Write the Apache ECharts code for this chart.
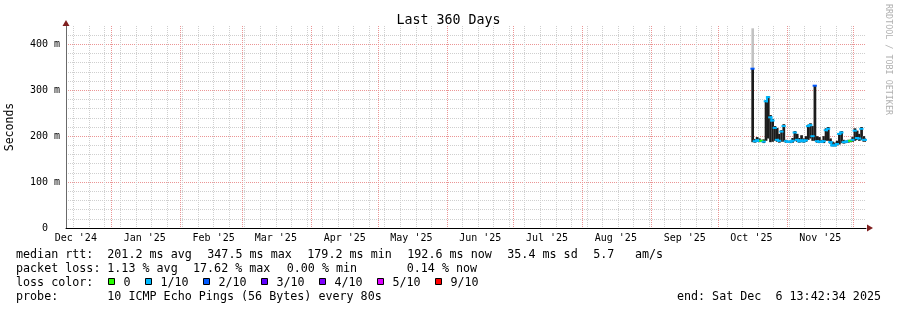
<!DOCTYPE html>
<html><head><meta charset="utf-8">
<script src="https://cdn.jsdelivr.net/npm/echarts@6/dist/echarts.min.js"></script>
<style>html,body{margin:0;padding:0;background:#fff}#c{width:897px;height:310px}</style>
</head><body><div id="c"></div>
<script>
const FONT = '"DejaVu Sans Mono", monospace';
const DAY = 86400000;

// ---- data (one sample per day, first sample 2025-10-16 12:00 UTC) ----
const firstSample = Date.UTC(2025, 9, 16, 12, 0, 0);
const smokeLow   = [187,186,188,187,188,185,190,195,187,188,190,188,186,188,188,186,186,185,186,190,188,186,187,186,188,192,195,190,190,186,185,186,185,190,190,184,178,178,180,182,185,184,185,186,187,188,190,192,190,192,188,188];
const smokeHigh  = [348,194,198,195,192,193,278,287,246,237,222,218,205,213,226,192,190,190,196,211,205,196,202,195,200,225,228,222,311,200,198,192,200,217,220,195,188,186,190,207,211,192,190,192,192,198,217,212,205,220,200,195];
const smokeOuter = [435,194,198,195,192,193,278,287,246,237,222,218,205,213,226,192,190,190,196,211,205,196,202,195,200,225,228,222,311,200,198,192,200,217,220,195,188,186,190,207,211,192,190,192,192,198,217,212,205,220,200,195];
const medianRtt  = [347,189,191,190,190,188,276,285,241,234,218,192,190,210,222,189,188,188,190,208,192,189,191,189,191,222,224,200,310,189,188,188,189,213,216,187,180,180,183,205,208,187,188,189,190,192,212,196,195,216,192,192];
const lossLevel  = [2,1,1,1,0,1,1,1,1,1,1,1,1,1,1,1,1,1,1,1,1,1,1,1,1,1,1,1,2,1,1,1,1,1,1,1,1,1,1,1,1,1,1,1,0,1,1,1,1,1,1,1];

const lossNames  = ['0','1/10','2/10','3/10','4/10','5/10','9/10'];
const lossColors = ['#26ff00','#00b8ff','#0059ff','#5e00ff','#7e00ff','#dd00ff','#ff0000'];

const monthLabels = ["Dec '24","Jan '25","Feb '25","Mar '25","Apr '25","May '25","Jun '25","Jul '25","Aug '25","Sep '25","Oct '25","Nov '25"];
const yTickValues = [0,100,200,300,400];
const yTickLabels = ['0  ','100 m','200 m','300 m','400 m'];

const END = Date.UTC(2025, 11, 6, 13, 42, 34);
const START = END - 360 * DAY;
const HALF = DAY / 2;

// ---- derived axis helpers ----
const times = medianRtt.map((_, i) => firstSample + i * DAY);
const monthStarts = monthLabels.map((_, i) => Date.UTC(2024, 11 + i, 1));
const monthLines = monthStarts.concat([Date.UTC(2025, 11, 1)]).filter(v => v > START && v < END);
const labelPos = monthStarts.map(m => m + 15 * DAY);
const weekLines = [];
for (let w = Date.UTC(2024, 11, 15); w < END; w += 7 * DAY) weekLines.push(w);
const yMinor = [];
for (let v = 20; v < 440; v += 20) if (v % 100) yMinor.push(v);
const yMajor = [100, 200, 300, 400];

const smokeData = times.map((t, i) => [t, smokeLow[i], smokeHigh[i], smokeOuter[i]]);
const medianData = times.map((t, i) => [t, medianRtt[i], lossLevel[i]]);

function renderSmoke(params, api) {
  const t = api.value(0);
  const cs = params.coordSys;
  const mk = (lo, hi, fill) => {
    const a = api.coord([t - HALF, hi]), b = api.coord([t + HALF, lo]);
    const shape = echarts.graphic.clipRectByRect({x: a[0], y: a[1], width: b[0] - a[0] + 0.4, height: b[1] - a[1]},
      {x: cs.x, y: cs.y, width: cs.width, height: cs.height});
    return shape ? {type: 'rect', shape: shape, style: {fill: fill}} : null;
  };
  const ch = [];
  const o = mk(api.value(1), api.value(3), '#c2c2c2'); if (o) ch.push(o);
  const n = mk(api.value(1), api.value(2), '#1c1c1c'); if (n) ch.push(n);
  return {type: 'group', children: ch};
}
function renderMedian(params, api) {
  const i = params.dataIndex;
  const t = api.value(0), m = api.value(1), lv = api.value(2);
  const cs = params.coordSys;
  const color = lossColors[lv];
  const a = api.coord([t - HALF, m]), b = api.coord([t + HALF, m]);
  const x2 = Math.min(b[0], cs.x + cs.width);
  const ch = [{type: 'line', shape: {x1: a[0], y1: a[1], x2: x2, y2: b[1]}, style: {stroke: color, lineWidth: 2, lineCap: 'square'}}];
  if (i > 0 && lossLevel[i - 1] === lv) {
    const p = api.coord([t - HALF, medianRtt[i - 1]]);
    if (Math.abs(p[1] - a[1]) <= 5) {
      ch.push({type: 'line', shape: {x1: a[0], y1: p[1], x2: a[0], y2: a[1]}, style: {stroke: color, lineWidth: 2, lineCap: 'square'}});
    }
  }
  return {type: 'group', children: ch};
}

const gridGray = '#cfcfcf', gridRed = '#eb9595', arrowColor = '#7f1f1f';
const baseX = {type: 'value', min: START, max: END, position: 'bottom', axisLine: {show: false, onZero: false}, axisTick: {show: false}, axisLabel: {show: false}, splitLine: {show: false}};
const baseY = {type: 'value', min: 0, max: 440, position: 'left', axisLine: {show: false, onZero: false}, axisTick: {show: false}, axisLabel: {show: false}, splitLine: {show: false}};

const option = {
  animation: false,
  backgroundColor: '#ffffff',
  title: {text: 'Last 360 Days', left: 'center', top: 14, padding: 0,
    textStyle: {fontFamily: FONT, fontSize: 13.3, fontWeight: 'normal', color: '#000'}},
  grid: {left: 66, right: 31, top: 26, bottom: 82, outerBoundsMode: 'none'},
  xAxis: [
    Object.assign({}, baseX, {axisTick: {show: false, customValues: weekLines}, splitLine: {show: true, lineStyle: {color: gridGray, type: [1, 1], width: 1}}}),
    Object.assign({}, baseX, {axisTick: {show: false, customValues: monthLines}, splitLine: {show: true, lineStyle: {color: gridRed, type: [1, 1], width: 1}}}),
    Object.assign({}, baseX, {axisLine: {show: true, onZero: false, lineStyle: {color: '#000', width: 1}},
      axisLabel: {show: true, customValues: labelPos, margin: 5, fontFamily: FONT, fontSize: 10, color: '#000',
        formatter: v => { const k = labelPos.indexOf(v); return k >= 0 ? monthLabels[k] : ''; }}}),
    Object.assign({}, baseX, {axisLine: {show: true, onZero: false, symbol: ['none', 'triangle'], symbolSize: [7, 6], symbolOffset: [0, 4], lineStyle: {color: arrowColor, width: 0}}})
  ],
  yAxis: [
    Object.assign({}, baseY, {axisTick: {show: false, customValues: yMinor}, splitLine: {show: true, lineStyle: {color: gridGray, type: [1, 1], width: 1}}}),
    Object.assign({}, baseY, {axisTick: {show: false, customValues: yMajor}, splitLine: {show: true, lineStyle: {color: gridRed, type: [1, 1], width: 1}}}),
    Object.assign({}, baseY, {axisLine: {show: true, onZero: false, lineStyle: {color: '#6a6a6a', width: 1}},
      axisLabel: {show: true, customValues: yTickValues, margin: 6, fontFamily: FONT, fontSize: 10, color: '#000',
        formatter: v => { const k = yTickValues.indexOf(v); return k >= 0 ? yTickLabels[k] : ''; }}}),
    Object.assign({}, baseY, {axisLine: {show: true, onZero: false, symbol: ['none', 'triangle'], symbolSize: [7, 6], symbolOffset: [0, 3], lineStyle: {color: arrowColor, width: 0}}})
  ],
  series: [
    {type: 'custom', name: 'smoke', xAxisIndex: 2, yAxisIndex: 2, renderItem: renderSmoke, data: smokeData, z: 3, silent: true},
    {type: 'custom', name: 'median rtt', xAxisIndex: 2, yAxisIndex: 2, renderItem: renderMedian, data: medianData, z: 4, silent: true}
  ],
  graphic: []
};

// legend / text lines
const T = (text, x, y, extra) => Object.assign({type: 'text', x: x, y: y, silent: true,
  style: Object.assign({text: text, fontFamily: FONT, fontSize: 11.7, fill: '#000', verticalAlign: 'middle', align: 'left'}, extra || {})});
const L1 = 254.8, L2 = 268.7, L3 = 282.7, L4 = 296.7;
const g = option.graphic;
g.push(T('median rtt:', 16, L1), T('201.2 ms avg', 107.3, L1), T('347.5 ms max', 207.3, L1), T('179.2 ms min', 307.3, L1),
       T('192.6 ms now', 407.3, L1), T('35.4 ms sd', 507.3, L1), T('5.7', 593.3, L1), T('am/s', 635, L1));
g.push(T('packet loss:', 16, L2), T('1.13 % avg', 107.3, L2), T('17.62 % max', 193, L2), T('0.00 % min', 286.7, L2), T('0.14 % now', 406.7, L2));
g.push(T('loss color:', 16, L3));
const boxX = [108.5, 145.5, 203.5, 261.5, 319.5, 377.5, 435.5];
lossNames.forEach((nm, k) => {
  g.push({type: 'rect', silent: true, shape: {x: boxX[k], y: 278.5, width: 6, height: 6}, style: {fill: lossColors[k], stroke: '#000', lineWidth: 1}});
  g.push(T(nm, boxX[k] + 15, L3));
});
g.push(T('probe:', 16, L4), T('10 ICMP Echo Pings (56 Bytes) every 80s', 107.3, L4),
       T('end: Sat Dec  6 13:42:34 2025', 881, L4, {align: 'right'}));
g.push(T('Seconds', 10.5, 127, {align: 'center', fontSize: 11.5}));
g[g.length - 1].rotation = Math.PI / 2;
g.push({type: 'text', silent: true, x: 888.3, y: 59.5, rotation: -Math.PI / 2,
  style: {text: 'RRDTOOL / TOBI OETIKER', fontFamily: FONT, fontSize: 8.4, fill: '#b0b0b0', align: 'center', verticalAlign: 'middle'}});

const chart = echarts.init(document.getElementById('c'), null, {renderer: 'canvas'});
chart.setOption(option);
</script></body></html>
